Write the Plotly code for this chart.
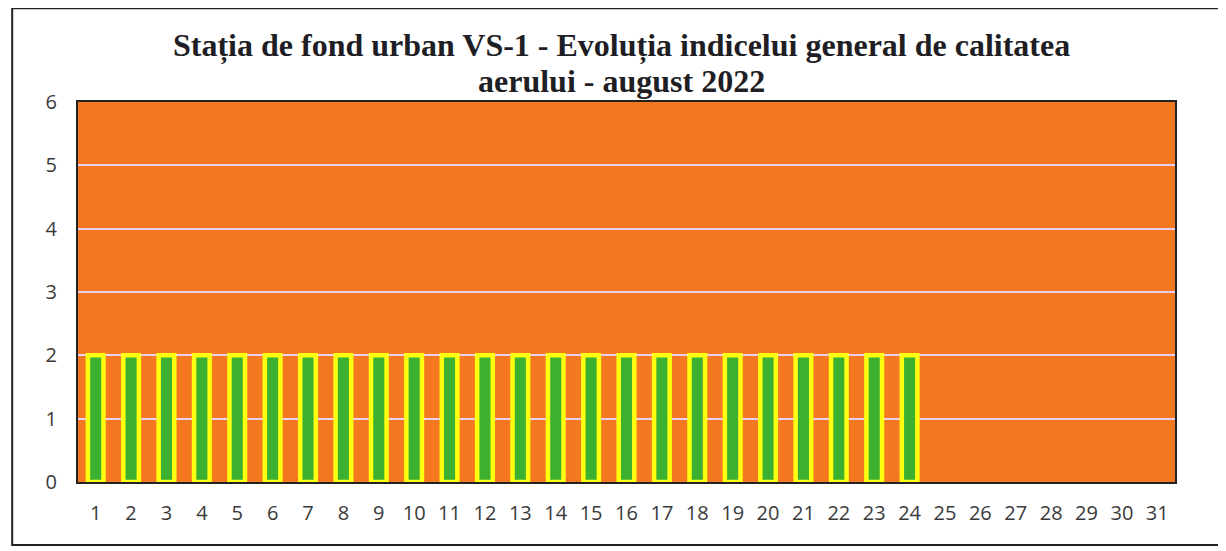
import plotly.graph_objects as go

days = [str(d) for d in range(1, 32)]
values = [2] * 24 + [None] * 7
title_line1 = "<b>Stația de fond urban VS-1 - Evoluția indicelui general de calitatea</b>"
title_line2 = "<b>aerului - august 2022</b>"
y_ticks = [0, 1, 2, 3, 4, 5, 6]

fig = go.Figure()
fig.add_trace(go.Bar(
    x=days, y=values,
    marker=dict(color="#3CB030", line=dict(color="#FFFF10", width=4.5)),
    width=0.44,
))

tick_font = dict(family="Open Sans", size=20, color="#3A3A3A")
title_font = dict(family="Liberation Serif", size=32, color="#1E1E24")

fig.update_layout(
    width=1226, height=551,
    margin=dict(l=70, r=59, t=94, b=77),
    paper_bgcolor="white",
    plot_bgcolor="#F47820",
    showlegend=False,
    xaxis=dict(type="category", tickfont=tick_font,
               showline=True, linecolor="#222222", linewidth=2, mirror=True,
               ticks="", ticklen=0, showgrid=False, automargin=False, ticklabelstandoff=12),
    yaxis=dict(range=[0, 6], tickvals=y_ticks, tickfont=tick_font,
               showline=True, linecolor="#222222", linewidth=2, mirror=True,
               gridcolor="#E8D0F0", gridwidth=1.5, zeroline=False, ticklen=0, ticks="",
               automargin=False, ticklabelstandoff=15),
    annotations=[
        dict(text=title_line1, xref="paper", yref="paper", x=0.495, y=1.150,
             xanchor="center", yanchor="middle", showarrow=False, font=title_font),
        dict(text=title_line2, xref="paper", yref="paper", x=0.495, y=1.055,
             xanchor="center", yanchor="middle", showarrow=False, font=title_font),
    ],
    shapes=[dict(type="rect", xref="paper", yref="paper", x0=-0.060, x1=1.043, y0=-0.166, y1=1.247,
                 line=dict(color="#222222", width=2))],
)

fig.write_html("out.html")
